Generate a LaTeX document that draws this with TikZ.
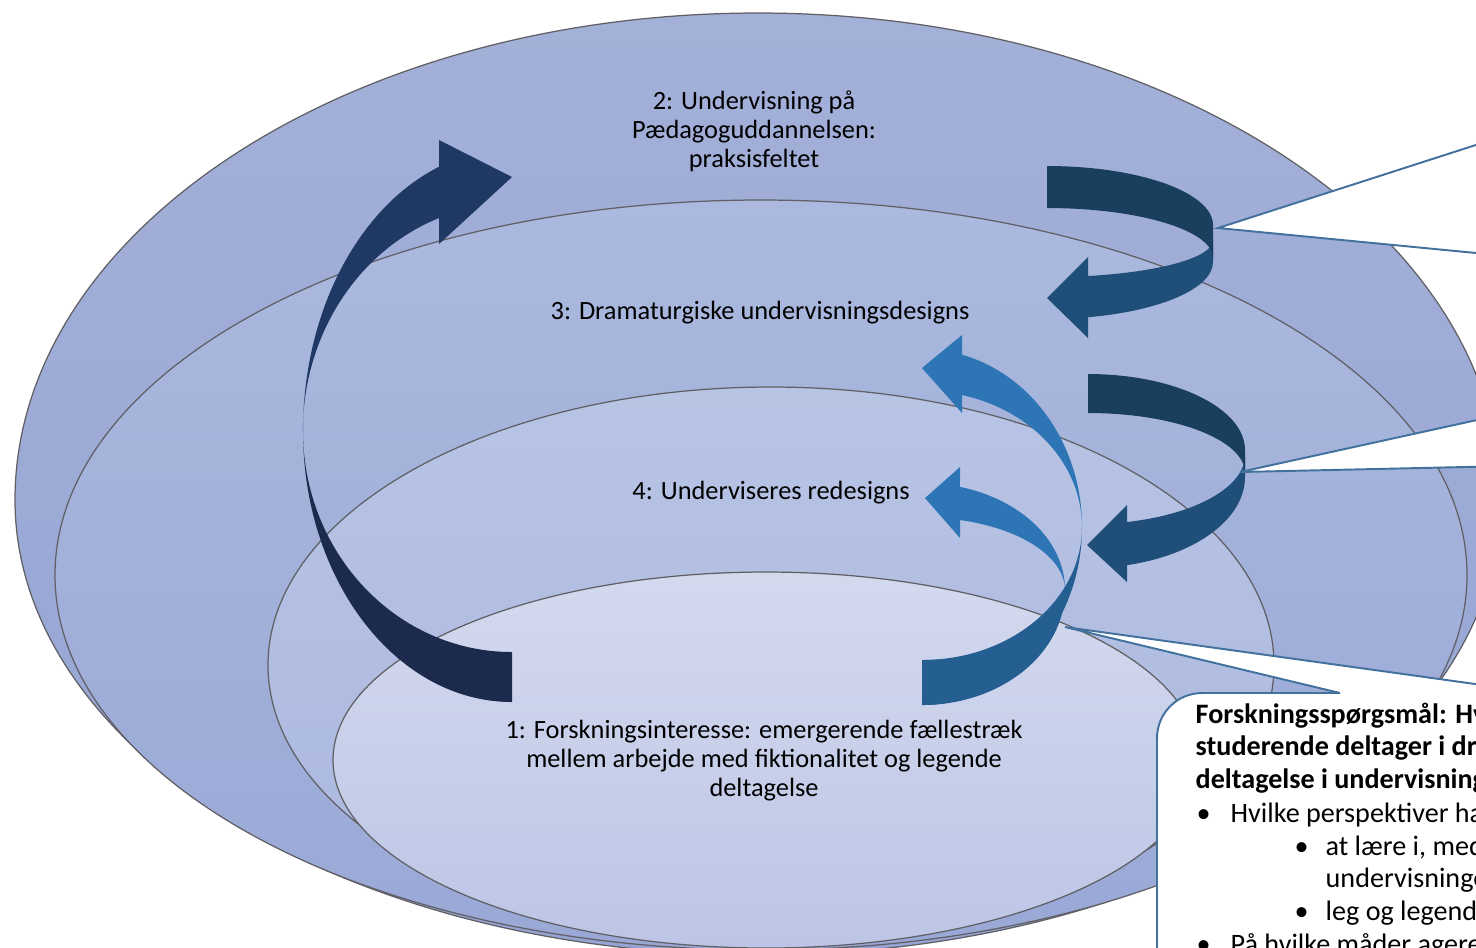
\documentclass[tikz,border=0pt]{standalone}
\usepackage{fontspec}
\setmainfont{Carlito}

\definecolor{ringAtop}{RGB}{163,176,216}
\definecolor{ringAbot}{RGB}{149,164,212}
\definecolor{ringBtop}{RGB}{171,185,222}
\definecolor{ringBbot}{RGB}{153,168,214}
\definecolor{ringCtop}{RGB}{184,196,228}
\definecolor{ringCbot}{RGB}{170,183,223}
\definecolor{ringDtop}{RGB}{211,217,237}
\definecolor{ringDbot}{RGB}{189,197,230}
\definecolor{ringline}{RGB}{95,95,100}
\definecolor{navytop}{RGB}{31,56,100}
\definecolor{navybot}{RGB}{28,43,77}
\definecolor{lighttop}{RGB}{46,117,182}
\definecolor{lightbot}{RGB}{37,94,145}
\definecolor{tealtop}{RGB}{25,62,94}
\definecolor{tealbot}{RGB}{31,78,121}
\definecolor{callblue}{RGB}{65,113,156}

\begin{document}
\begin{tikzpicture}[x=0.01cm, y=-0.01cm,
  ring/.style={draw=ringline, line width=0.35pt},
  lbl/.style={font=\fontsize{7.5pt}{8.25pt}\selectfont, align=center, inner sep=0pt},
  qtxt/.style={font=\fontsize{8pt}{9.25pt}\selectfont, anchor=base west, inner sep=0pt},
  qbold/.style={qtxt, font=\fontsize{8pt}{9.25pt}\selectfont\bfseries},
  callout/.style={draw=callblue, line width=0.55pt}]

\useasboundingbox (0,0) rectangle (1476,947);
\clip (0,0) rectangle (1476,947);
\fill[white] (0,0) rectangle (1476,947);

% the four rings
\shadedraw[ring, top color=ringAtop, bottom color=ringAbot] (15,500) arc[start angle=180, end angle=360, x radius=743, y radius=487] arc[start angle=0, end angle=180, x radius=743, y radius=455] -- cycle;
\shadedraw[ring, top color=ringBtop, bottom color=ringBbot] (761,575) ellipse [x radius=706, y radius=375];
\shadedraw[ring, top color=ringCtop, bottom color=ringCbot] (771,665) ellipse [x radius=503, y radius=278];
\shadedraw[ring, top color=ringDtop, bottom color=ringDbot] (766,760) ellipse [x radius=433, y radius=188];

% big arrow 1 -> 2
\fill[navybot] (512,702) arc[start angle=90, end angle=180, x radius=209, y radius=271] arc[start angle=180, end angle=90, x radius=209, y radius=221] -- cycle;
\fill[navytop] (303,431) arc[start angle=180, end angle=249.6, x radius=209, y radius=282] -- (439,140) -- (512,177) -- (439,244) -- (439,218) arc[start angle=249.6, end angle=180, x radius=209, y radius=227] -- cycle;

% arrows 1 -> 3 and 1 -> 4
\fill[lightbot] (922,705) arc[start angle=90, end angle=0, x radius=160, y radius=178] arc[start angle=0, end angle=90, x radius=160, y radius=133] -- cycle;
\fill[lightbot] (922,705) arc[start angle=90, end angle=0, x radius=143, y radius=115] arc[start angle=0, end angle=90, x radius=143, y radius=70] -- cycle;
\fill[lighttop] (1065,590) arc[start angle=360, end angle=285.4, x radius=143, y radius=107] -- (960,467) -- (925,498) -- (960,538) -- (960,520) arc[start angle=285.4, end angle=360, x radius=143, y radius=73] -- cycle;
\fill[lighttop] (1082,527) arc[start angle=360, end angle=284.5, x radius=160, y radius=178] -- (962,335) -- (922,368) -- (962,413) -- (962,395) arc[start angle=284.5, end angle=360, x radius=160, y radius=136] -- cycle;

% arrows 2 -> 3 and 3 -> 4
\fill[tealbot] (1213,240) -- (1213,262) arc[start angle=0, end angle=75.7, x radius=166, y radius=57] -- (1088,338) -- (1047,298) -- (1088,257) -- (1088,276) arc[start angle=75.7, end angle=0, x radius=166, y radius=37] -- cycle;
\fill[tealtop] (1047,166) arc[start angle=270, end angle=360, x radius=166, y radius=59] -- (1213,258) arc[start angle=0, end angle=-90, x radius=166, y radius=50] -- cycle;
\fill[tealbot] (1245,455) -- (1245,477) arc[start angle=0, end angle=75.6, x radius=157, y radius=91] -- (1127,582) -- (1087,545) -- (1127,505) -- (1127,522) arc[start angle=75.6, end angle=0, x radius=157, y radius=69] -- cycle;
\fill[tealtop] (1088,374) arc[start angle=270, end angle=360, x radius=157, y radius=76] -- (1245,473) arc[start angle=0, end angle=-90, x radius=157, y radius=60] -- cycle;

% ring labels
\node[lbl] (praksis) at (754,131) {2: Undervisning på\\Pædagoguddannelsen:\\praksisfeltet};
\node[lbl] (designs) at (760,313) {3: Dramaturgiske undervisningsdesigns};
\node[lbl] (redesigns) at (771,493) {4: Underviseres redesigns};
\node[lbl] (interesse) at (764,761) {1: Forskningsinteresse: emergerende fællestræk\\mellem arbejde med fiktionalitet og legende\\deltagelse};

% callouts
\filldraw[callout, fill=white] (1600,105) -- (1218,228) -- (1600,265);
\filldraw[callout, fill=white] (1600,393) -- (1240,472) -- (1600,464);
\filldraw[callout, fill=white, rounded corners=0.45cm] (1157,1100) -- (1157,693) -- (1700,693) -- (1700,1100);
\fill[white] (1065,627) -- (1540,693) -- (1540,697) -- (1340,697) -- (1340,693) -- cycle;
\draw[callout] (1340,693) -- (1065,627) -- (1540,693);

\node[qbold] (q1) at (1195,723) {Forskningsspørgsmål: Hv};
\node[qbold] (q2) at (1195,755) {studerende deltager i dra};
\node[qbold] (q3) at (1195,788) {deltagelse i undervisning};
\node[qtxt] (b1) at (1196,822) {•};
\node[qtxt] (q4) at (1230,822) {Hvilke perspektiver ha};
\node[qtxt] (b2) at (1294,855) {•};
\node[qtxt] (q5) at (1325,855) {at lære i, med};
\node[qtxt] (q6) at (1325,887) {undervisninge};
\node[qtxt] (b3) at (1294,920) {•};
\node[qtxt] (q7) at (1325,920) {leg og legend};
\node[qtxt] (b4) at (1196,953) {•};
\node[qtxt] (q8) at (1230,953) {På hvilke måder agere};

\end{tikzpicture}
\end{document}
